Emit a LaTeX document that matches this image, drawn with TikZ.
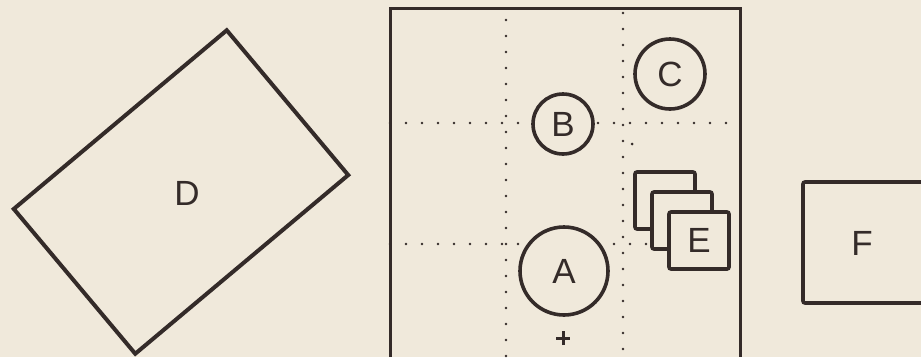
\documentclass[tikz,border=0pt]{standalone}
\usepackage{fontspec}
\setmainfont{Liberation Sans}
\definecolor{paper}{RGB}{240,233,219}
\definecolor{ink}{RGB}{52,43,41}

\begin{document}
\begin{tikzpicture}[x=1pt, y=-1pt,
    inkline/.style={draw=ink, line width=3.6pt},
    griddots/.style={draw=ink, line width=2.6pt, line cap=round, dash pattern=on 0pt off 16pt},
    tag/.style={text=ink, font=\fontsize{35}{35}\selectfont},
    disc/.style={inkline, tag, circle, fill=paper, inner sep=0pt},
    card/.style={inkline, fill=paper, rounded corners=2pt, minimum width=60pt, minimum height=57pt}]
    % Parameters
    \def\frameleft{390} % Left side of the frame
    \def\frameright{740} % Right side of the frame
    \def\frametop{8} % Top of the frame
    \def\pagebottom{357} % Lower edge of the picture

    % Paper
    \fill[paper] (0,0) rectangle (921,\pagebottom);
    \useasboundingbox (0,0) rectangle (921,\pagebottom);

    % Tilted sheet D
    \node[inkline, line width=4pt, rotate=40, minimum width=278pt, minimum height=189pt] (Dbox) at (181,192) {};
    \node[tag] (D) at (187,193) {D};

    % Dotted grid inside the frame
    \foreach \gx/\gy in {506/20, 623/13} {
        \draw[griddots] (\gx,\gy) -- (\gx,\pagebottom);
    }
    \foreach \gy in {123, 244} {
        \draw[griddots] (\frameleft,\gy) -- (\frameright,\gy);
    }
    \fill[ink] (632,144) circle (1.5pt);

    % Frame, open at the bottom
    \coordinate (fbl) at (\frameleft,\pagebottom);
    \coordinate (fbr) at (\frameright,\pagebottom);
    \draw[ink, line width=3pt] (fbl) |- (\frameright,\frametop) -- (fbr);

    % Discs
    \node[disc, minimum size=88pt] (A) at (564,271) {A};
    \node[disc, minimum size=60pt] (B) at (563,124) {B};
    \node[disc, minimum size=70pt] (C) at (670,74) {C};

    % Cross under A
    \coordinate (plus) at (563,338);
    \draw[ink, line width=3pt] ([xshift=-7pt]plus) -- ([xshift=7pt]plus)
        ([yshift=-7pt]plus) -- ([yshift=7pt]plus);

    % Stack of cards E
    \foreach \k in {0,1} {
        \node[card] (card\k) at ({665+17*\k},{200.5+20*\k}) {};
    }
    \node[card, tag] (E) at (699,240.5) {E};

    % Sheet F, cut by the right edge
    \draw[inkline, rounded corners=2pt] (803,182) rectangle (940,303);
    \node[tag] (F) at (862,243) {F};
\end{tikzpicture}
\end{document}
